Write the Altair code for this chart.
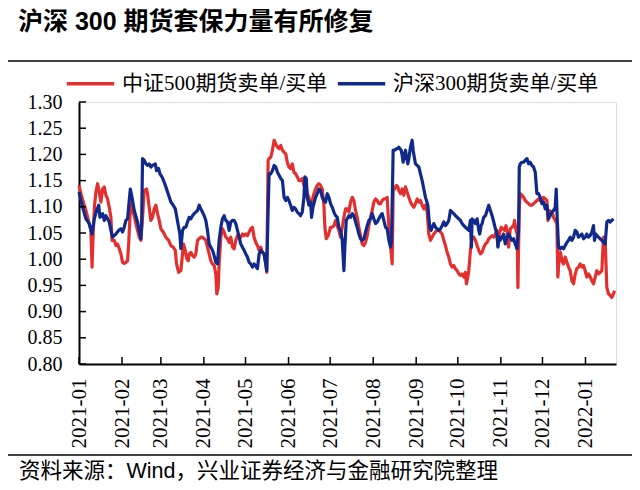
import altair as alt
import pandas as pd

TITLE = "沪深 300 期货套保力量有所修复"
SOURCE = "资料来源：Wind，兴业证券经济与金融研究院整理"
SERIES = ["中证500期货卖单/买单", "沪深300期货卖单/买单"]
COLORS = ["#E3302E", "#102A8C"]

# days since 2021-01-01
red_days = [0.0, 1.4, 3.1, 5.0, 7.0, 8.6, 9.4, 10.3, 11.3, 12.2, 13.4, 14.6, 15.8, 17.0, 18.2, 19.4, 20.6, 21.8, 23.0, 23.8,
            25.4, 26.6, 27.8, 29.0, 30.2, 31.4, 32.6, 33.8, 35.0, 35.8, 36.7, 37.4, 38.6, 39.8, 41.0, 42.2, 43.4, 44.6, 45.8, 47.0,
            48.7, 49.4, 50.6, 51.8, 53.0, 54.2, 55.4, 56.6, 57.8, 59.0, 60.7, 62.6, 64.6, 66.2, 67.9, 69.4, 70.3, 71.8, 73.4,
            75.3, 76.3, 77.7, 78.7, 79.4, 80.6, 81.8, 83.0, 84.2, 85.4, 86.6, 87.8, 89.0, 90.2, 91.4, 92.6, 93.8, 95.0, 96.2, 97.4,
            98.6, 99.3, 100.3, 101.0, 102.2, 103.4, 104.6, 105.8, 107.0, 108.2, 109.4, 110.6, 111.8, 113.0, 114.2, 115.4, 116.6,
            117.8, 119.0, 120.2, 121.4, 122.6, 123.8, 125.0, 126.2, 127.4, 128.6, 129.8, 131.0, 132.2, 133.4, 134.6, 135.3, 136.3,
            137.0, 138.2, 139.4, 140.6, 141.8, 143.0, 144.2, 145.4, 146.6, 147.8, 149.0,
            150.1, 151.3, 152.5, 153.7, 154.9, 156.1, 157.3, 158.5, 159.7, 160.9, 162.1, 163.3, 164.5, 165.7, 166.9, 168.1, 169.3,
            170.5, 171.7, 172.9, 174.1, 175.3, 176.5, 177.2, 178.2, 179.6, 181.3, 182.5, 183.7, 184.9, 186.1, 187.3, 188.5, 189.7,
            190.9, 192.1, 193.3, 194.5, 195.7, 196.9, 198.1, 199.3, 200.5, 201.7, 202.9, 204.1, 205.3, 206.5, 207.7, 208.9, 210.1,
            211.3, 212.5, 213.7, 214.9, 216.1, 217.3, 218.5, 219.7, 220.9, 222.1, 223.3, 224.5, 225.7,
            226.4, 227.4, 228.8, 229.8, 230.5, 231.7, 232.9, 234.1, 235.3, 236.5, 237.7, 238.9, 240.1, 241.3, 242.5, 243.7, 244.9,
            246.1, 247.3, 248.5, 249.7, 250.9, 252.1, 253.3, 254.5, 255.7, 256.9, 258.1, 259.3, 260.5, 261.7, 262.9, 264.1, 265.3,
            266.5, 267.7, 268.9, 270.1, 271.3, 272.5, 273.7, 274.9, 276.1, 277.3, 278.5, 279.2, 280.2, 280.9, 282.1, 283.3, 284.5,
            285.7, 286.9, 288.1, 289.3, 290.5, 291.7, 292.9, 294.1, 295.3, 296.5, 297.7, 298.9, 300.1,
            301.2, 301.9, 302.9, 304.3, 305.3, 306.7, 307.7, 308.4, 309.6, 310.8, 312.0, 313.2, 313.9, 314.9, 315.8, 316.3, 317.3,
            318.0, 319.2, 320.4, 321.6, 322.8, 324.0, 325.2, 326.4, 327.6, 328.8, 330.0, 331.2, 332.4, 333.6, 334.8, 336.0, 337.2,
            337.9, 338.9, 340.3, 341.3, 342.0, 343.2, 344.4, 345.1, 346.1, 347.0, 348.0, 349.2, 350.4, 351.6, 352.8, 354.0, 355.2,
            356.4, 357.6, 358.8, 360.0, 361.2, 362.4, 363.6, 364.8, 366.0, 367.2, 368.4, 369.6, 370.8, 372.0, 373.2, 374.4, 375.6,
            376.8, 378.0, 379.2, 380.4, 381.6, 382.8, 384.0, 385.2, 385.9]
red_vals = [1.141, 1.125, 1.109, 1.093, 1.071, 1.055, 0.985, 1.055, 1.106, 1.128, 1.144, 1.128, 1.109, 1.134, 1.138, 1.122, 1.115, 1.099, 1.080, 1.036,
            1.036, 1.026, 1.029, 1.020, 1.010, 0.994, 0.992, 0.994, 0.997, 1.029, 1.080, 1.106, 1.093, 1.083, 1.068, 1.055, 1.042, 1.036, 1.080, 1.131,
            1.134, 1.125, 1.099, 1.074, 1.080, 1.096, 1.103, 1.087, 1.074, 1.058, 1.052, 1.042, 1.036, 1.026, 1.023, 1.017, 0.991, 0.975, 0.978,
            1.029, 1.020, 1.001, 0.997, 1.010, 1.013, 1.007, 1.004, 1.010, 1.036, 1.039, 1.042, 1.042, 1.039, 1.036, 1.023, 1.010, 0.997, 0.991, 0.988,
            0.972, 0.934, 0.946, 0.991, 1.042, 1.058, 1.052, 1.042, 1.039, 1.032, 1.042, 1.023, 1.020, 1.036, 1.045, 1.042, 1.042,
            1.048, 1.045, 1.048, 1.045, 1.052, 1.058, 1.061, 1.042, 1.032, 1.026, 1.017, 1.023, 1.013, 1.010, 0.991, 0.975, 1.189,
            1.192, 1.195, 1.208, 1.227, 1.220, 1.214, 1.211, 1.217, 1.208, 1.204, 1.201,
            1.185, 1.176, 1.173, 1.182, 1.166, 1.163, 1.157, 1.150, 1.150, 1.154, 1.141, 1.144, 1.125, 1.118, 1.103, 1.112, 1.125,
            1.134, 1.141, 1.144, 1.141, 1.134, 1.103, 1.061, 1.039, 1.045, 1.061, 1.061, 1.064, 1.074, 1.064, 1.055, 1.042, 1.061,
            1.080, 1.096, 1.096, 1.090, 1.109, 1.118, 1.112, 1.093, 1.080, 1.061, 1.045, 1.029, 1.026, 1.032, 1.045, 1.064, 1.080,
            1.093, 1.109, 1.115, 1.112, 1.106, 1.106, 1.112, 1.115, 1.115, 1.118, 1.061, 1.026, 0.991,
            1.131, 1.134, 1.141, 1.138, 1.131, 1.125, 1.134, 1.122, 1.138, 1.128, 1.118, 1.109, 1.103, 1.099, 1.106, 1.115, 1.109,
            1.112, 1.103, 1.096, 1.103, 1.090, 1.048, 1.036, 1.042, 1.048, 1.052, 1.055, 1.055, 1.052, 1.048, 1.036, 1.026, 1.013,
            1.004, 0.991, 0.985, 0.988, 0.982, 0.978, 0.972, 0.969, 0.972, 0.966, 0.975, 0.953, 0.966, 0.978, 1.017, 1.042, 1.042,
            1.036, 1.026, 1.017, 1.010, 1.013, 1.023, 1.029, 1.032, 1.039, 1.042, 1.045, 1.042, 1.048,
            1.055, 1.026, 1.048, 1.061, 1.058, 1.055, 1.064, 1.055, 1.023, 1.058, 1.061, 1.064, 1.074, 1.055, 1.048, 0.946, 1.099,
            1.125, 1.122, 1.118, 1.112, 1.109, 1.106, 1.103, 1.103, 1.106, 1.109, 1.112, 1.115, 1.112, 1.109, 1.118, 1.115, 1.112,
            1.074, 1.093, 1.090, 1.087, 1.080, 1.074, 1.068, 0.966, 1.004, 1.013, 0.997, 0.991, 1.004, 0.994, 0.985, 0.978, 0.959,
            0.953, 0.972, 0.982, 0.985, 0.991, 0.985, 0.988, 0.978, 0.966, 0.972, 0.966, 0.959, 0.953, 0.966, 0.978, 0.972, 0.975,
            0.978, 1.042, 1.036, 0.946, 0.934, 0.931, 0.927, 0.934, 0.940]

blue_days = [0.0, 2.2, 5.0, 7.4, 9.4, 11.0, 12.7, 14.2, 15.1, 17.0, 18.2, 19.4, 20.6, 21.8, 23.0, 24.2, 26.6, 28.6, 30.2, 31.4,
             32.6, 33.8, 35.0, 36.2, 37.0, 38.2, 39.8, 42.2, 44.6, 45.1, 45.8, 47.0, 48.2, 49.4, 50.6, 51.8, 53.0, 55.0, 55.9,
             57.4, 58.3, 59.8, 61.4, 62.6, 64.6, 66.2, 67.9, 69.4, 70.3, 71.8, 72.7, 73.4, 74.6, 75.8, 77.0,
             78.2, 79.4, 80.6, 81.8, 83.0, 84.2, 85.4, 86.6, 87.8, 89.0, 90.2, 91.4, 92.6, 93.8, 95.0, 96.2, 97.4, 98.6, 99.8,
             101.0, 102.2, 103.4, 104.6, 105.8, 107.0, 108.2, 109.4, 110.6, 111.8, 113.0, 114.2, 115.4, 116.6, 117.8, 119.0,
             120.2, 121.4, 122.6, 123.8, 125.0, 126.2, 128.6, 129.8, 131.0, 132.2, 133.4, 134.6, 135.3, 136.3, 137.0, 138.2,
             139.4, 140.6, 141.8, 143.0, 144.2, 145.4, 146.6, 147.8, 149.0, 150.2,
             151.3, 152.5, 153.7, 154.9, 156.1, 157.3, 158.5, 159.7, 160.9, 162.1, 162.8, 163.8, 164.5, 165.7, 166.9, 167.6,
             168.6, 169.3, 170.5, 171.7, 172.9, 174.1, 175.3, 176.5, 177.7, 178.9, 180.1, 181.3, 182.5, 183.7, 184.9, 186.1,
             187.3, 188.5, 189.7, 190.9, 191.6, 192.6, 193.3, 194.5, 195.7, 196.9, 198.1, 199.3, 200.5, 201.7, 202.9, 204.1,
             205.3, 206.5, 207.7, 208.9, 210.1, 211.3, 212.5, 213.7, 214.9, 216.1, 217.3, 218.5, 219.7, 220.9, 222.1, 223.3,
             224.5, 225.2,
             226.4, 227.4, 228.8, 229.8, 230.5, 231.2, 232.2, 232.9, 233.6, 234.6, 235.3, 236.0, 237.0, 237.7, 238.9, 240.1,
             240.8, 241.8, 242.5, 243.7, 244.9, 246.1, 247.3, 248.5, 249.7, 250.4, 251.4, 252.1, 252.8, 253.8, 254.5, 255.7,
             256.9, 258.1, 259.3, 260.5, 261.7, 262.9, 264.1, 265.3, 266.5, 267.7, 268.9, 270.1, 271.3, 272.5, 273.7, 274.9,
             276.1, 277.3, 278.5, 279.7, 280.9, 282.1, 282.8, 283.3, 284.5, 285.7, 286.9, 288.1, 288.8, 289.8, 290.5, 291.7,
             292.9, 294.1, 295.3, 296.5, 297.7, 298.9, 300.1,
             301.2, 301.9, 302.9, 303.6, 304.8, 306.0, 307.2, 308.4, 309.6, 310.8, 312.0, 313.2, 314.4, 315.6, 316.8, 317.3,
             318.0, 319.2, 320.4, 321.6, 322.8, 324.0, 325.2, 326.4, 327.6, 328.8, 330.0, 331.2, 332.4, 333.6, 334.8, 336.0,
             337.2, 338.4, 339.6, 340.8, 342.0, 343.2, 343.9, 344.6, 345.6, 346.8, 348.0, 349.2, 350.4, 351.6, 352.8, 354.0,
             355.2, 356.4, 357.6, 358.8, 360.0, 361.2, 362.4, 363.6, 364.8, 366.0, 367.2, 368.4, 369.6, 370.8, 371.5, 372.5,
             373.2, 374.4, 375.6, 376.8, 378.0, 379.2, 380.4, 381.6, 382.8, 384.0, 385.2]
blue_vals = [1.128, 1.103, 1.077, 1.068, 1.048, 1.077, 1.093, 1.103, 1.080, 1.087, 1.074, 1.083, 1.077, 1.071, 1.055, 1.042, 1.048, 1.055, 1.058, 1.052,
             1.061, 1.074, 1.077, 1.112, 1.134, 1.118, 1.093, 1.071, 1.039, 1.064, 1.192, 1.189, 1.182, 1.179, 1.182, 1.176, 1.179, 1.182, 1.169,
             1.173, 1.163, 1.157, 1.147, 1.138, 1.122, 1.109, 1.103, 1.096, 1.083, 1.061, 1.048, 1.020, 1.055, 1.061, 1.061,
             1.071, 1.080, 1.077, 1.083, 1.087, 1.090, 1.093, 1.103, 1.096, 1.090, 1.083, 1.074, 1.055, 1.029, 1.023, 1.017, 1.007, 0.994, 0.991,
             1.036, 1.061, 1.077, 1.083, 1.074, 1.071, 1.055, 1.071, 1.074, 1.074, 1.068, 1.055, 1.042, 1.029, 1.023, 1.017,
             1.010, 1.004, 0.994, 0.991, 0.985, 0.991, 0.982, 1.010, 1.017, 1.013, 1.010, 0.991, 0.978, 1.093, 1.163, 1.163,
             1.169, 1.179, 1.176, 1.166, 1.160, 1.154, 1.150, 1.118, 1.112, 1.118,
             1.112, 1.103, 1.093, 1.099, 1.096, 1.090, 1.087, 1.083, 1.090, 1.118, 1.157, 1.154, 1.118, 1.103, 1.109, 1.080,
             1.099, 1.106, 1.118, 1.125, 1.134, 1.131, 1.118, 1.112, 1.109, 1.125, 1.118, 1.106, 1.099, 1.090, 1.083, 1.080,
             1.061, 1.055, 1.036, 0.978, 1.023, 1.074, 1.077, 1.083, 1.080, 1.087, 1.083, 1.071, 1.061, 1.048, 1.039, 1.036,
             1.039, 1.052, 1.064, 1.074, 1.077, 1.087, 1.077, 1.068, 1.071, 1.077, 1.083, 1.087, 1.074, 1.061, 1.058, 1.036,
             1.023, 1.036,
             1.208, 1.208, 1.211, 1.211, 1.214, 1.211, 1.208, 1.198, 1.185, 1.201, 1.208, 1.195, 1.182, 1.192, 1.214, 1.227,
             1.208, 1.192, 1.182, 1.179, 1.176, 1.163, 1.150, 1.134, 1.118, 1.112, 1.103, 1.080, 1.061, 1.055, 1.061, 1.068,
             1.061, 1.058, 1.055, 1.058, 1.064, 1.071, 1.064, 1.068, 1.074, 1.093, 1.090, 1.087, 1.083, 1.080, 1.077, 1.074,
             1.068, 1.064, 1.061, 1.058, 1.055, 1.074, 1.023, 1.077, 1.074, 1.068, 1.077, 1.055, 1.048, 1.064, 1.068, 1.080,
             1.083, 1.093, 1.103, 1.093, 1.083, 1.071, 1.058,
             1.048, 1.023, 1.042, 1.036, 1.042, 1.048, 1.029, 1.042, 1.048, 1.042, 1.036, 1.039, 1.029, 1.020, 1.055, 1.176,
             1.182, 1.185, 1.185, 1.189, 1.192, 1.182, 1.185, 1.179, 1.176, 1.166, 1.125, 1.125, 1.118, 1.106, 1.109, 1.096,
             1.103, 1.077, 1.083, 1.090, 1.093, 1.099, 1.134, 1.080, 1.023, 1.020, 1.023, 1.020, 1.026, 1.032, 1.036, 1.042,
             1.036, 1.042, 1.055, 1.052, 1.042, 1.045, 1.048, 1.039, 1.042, 1.048, 1.042, 1.045, 1.052, 1.064, 1.036, 1.048,
             1.045, 1.042, 1.039, 1.036, 1.032, 1.029, 1.071, 1.074, 1.071, 1.074, 1.077]

y_ticks = [0.80, 0.85, 0.90, 0.95, 1.00, 1.05, 1.10, 1.15, 1.20, 1.25, 1.30]
month_ticks = ["2021-01", "2021-02", "2021-03", "2021-04", "2021-05", "2021-06", "2021-07",
               "2021-08", "2021-09", "2021-10", "2021-11", "2021-12", "2022-01"]

start = pd.Timestamp("2021-01-01")
rows = []
for name, days, vals in [(SERIES[0], red_days, red_vals), (SERIES[1], blue_days, blue_vals)]:
    for i, (d, v) in enumerate(zip(days, vals)):
        rows.append({"series": name, "date": start + pd.to_timedelta(d, unit="D"), "value": v, "i": i})
df = pd.DataFrame(rows)

month_dates = [alt.DateTime(year=int(m[:4]), month=int(m[5:]), date=1) for m in month_ticks]
W, H = 537, 262
SERIF = "Liberation Serif, Noto Sans CJK SC"
SANS = "Liberation Sans, Noto Sans CJK SC"

x_scale = alt.Scale(domain=[alt.DateTime(year=2021, month=1, date=1), alt.DateTime(year=2022, month=1, date=23)])
y_scale = alt.Scale(domain=[0.8, 1.3], nice=False, zero=False)

x_axis = alt.Axis(values=month_dates, format="%Y-%m", labelAngle=270, labelFont=SERIF,
                  labelFontSize=21, labelColor="black", labelPadding=14, ticks=False,
                  domainColor="black", domainWidth=2, grid=False, labelOverlap=False)
y_axis = alt.Axis(values=y_ticks, format=".2f", labelFont=SERIF, labelFontSize=20,
                  labelColor="black", labelPadding=17, ticks=False, domainColor="black",
                  domainWidth=2, grid=False, labelOverlap=False)

lines = alt.Chart(df).mark_line(strokeWidth=3.2, strokeJoin="round").encode(
    x=alt.X("date:T", scale=x_scale, title=None, axis=x_axis),
    y=alt.Y("value:Q", scale=y_scale, title=None, axis=y_axis),
    color=alt.Color("series:N", scale=alt.Scale(domain=SERIES, range=COLORS),
                    legend=alt.Legend(title=None, orient="none", legendX=-14, legendY=-44,
                                      direction="horizontal", symbolType="stroke",
                                      symbolStrokeWidth=3.5, symbolSize=2250, labelFont=SERIF,
                                      labelFontSize=21, labelColor="black", labelLimit=400,
                                      labelOffset=6, columnPadding=2)),
    order=alt.Order("i:Q"),
)

ytick_rules = alt.Chart(pd.DataFrame({"v": y_ticks})).mark_rule(color="black", strokeWidth=1.5).encode(
    y=alt.Y("v:Q", scale=y_scale, title=None, axis=y_axis), x=alt.value(0), x2=alt.value(7))
xtick_rules = alt.Chart(pd.DataFrame({"m": [m + "-01T00:00:00" for m in month_ticks]})).mark_rule(
    color="black", strokeWidth=1.5).encode(
    x=alt.X("m:T", scale=x_scale, title=None, axis=x_axis), y=alt.value(H), y2=alt.value(H - 7))

title = alt.Chart(pd.DataFrame({"t": [TITLE]})).mark_text(
    font=SANS, fontSize=25, fontWeight="bold", align="left", baseline="middle", color="black").encode(
    x=alt.value(-61), y=alt.value(-80), text="t:N")
source = alt.Chart(pd.DataFrame({"t": [SOURCE]})).mark_text(
    font=SANS, fontSize=21.5, align="left", baseline="middle", color="black").encode(
    x=alt.value(-60), y=alt.value(370), text="t:N")
sep_top = alt.Chart(pd.DataFrame({"k": [0]})).mark_rule(color="black", strokeWidth=1.5).encode(
    x=alt.value(-73), x2=alt.value(553), y=alt.value(-41))
sep_bottom = alt.Chart(pd.DataFrame({"k": [0]})).mark_rule(color="black", strokeWidth=1.5).encode(
    x=alt.value(-73), x2=alt.value(553), y=alt.value(353))

chart = alt.layer(lines, ytick_rules, xtick_rules, title, source, sep_top, sep_bottom).properties(
    width=W, height=H, autosize="none",
    padding={"left": 71, "top": 94, "right": 16, "bottom": 118},
).configure_view(strokeWidth=0).configure_axis(labelOverlap=False).configure(background="white")

chart.save("out.html", embed_options={"renderer": "svg", "actions": False})
